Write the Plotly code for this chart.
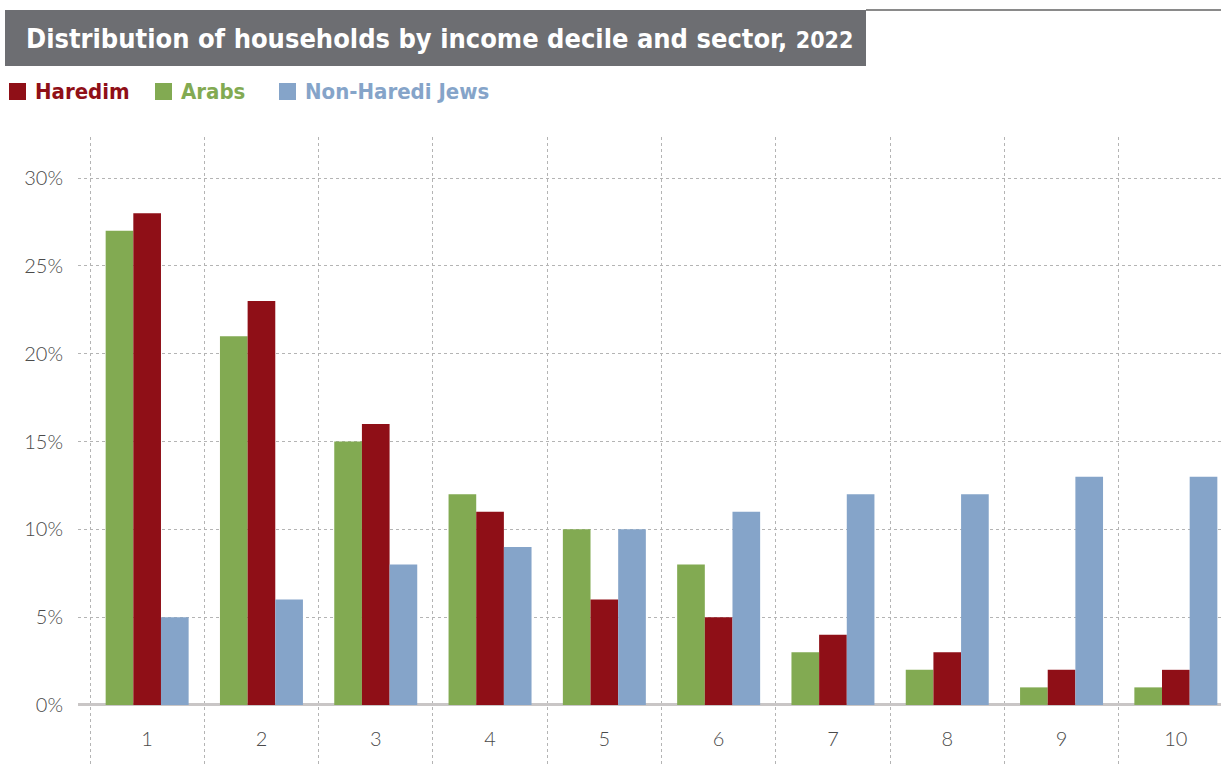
import plotly.graph_objects as go

# Income deciles and share of households (%) in each decile, by sector
deciles = ["1", "2", "3", "4", "5", "6", "7", "8", "9", "10"]
arabs = [27, 21, 15, 12, 10, 8, 3, 2, 1, 1]
haredim = [28, 23, 16, 11, 6, 5, 4, 3, 2, 2]
non_haredi = [5, 6, 8, 9, 10, 11, 12, 12, 13, 13]
y_ticks = [0, 5, 10, 15, 20, 25, 30]
y_tick_text = [f"{v}%" for v in y_ticks]

GREEN = "#82aa52"
RED = "#8f0f17"
BLUE = "#85a4c9"
TITLE_FONT = "Liberation Sans Narrow, DejaVu Sans Condensed, Roboto Condensed, sans-serif"
TICK_FONT = "Lato, Roboto, sans-serif"

xpos = list(range(len(deciles)))

fig = go.Figure()
for name, vals, color in [("Arabs", arabs, GREEN), ("Haredim", haredim, RED),
                          ("Non-Haredi Jews", non_haredi, BLUE)]:
    fig.add_trace(go.Bar(x=xpos, y=vals, name=name, marker=dict(color=color, line=dict(width=0)),
                         showlegend=False, hoverinfo="y+name"))

fig.update_layout(
    width=1221, height=784,
    margin=dict(l=78, r=0, t=137, b=19),
    paper_bgcolor="white", plot_bgcolor="white",
    barmode="group", bargap=0.274, bargroupgap=0,
    xaxis=dict(
        range=[-0.605, 9.395],
        tickvals=xpos, ticktext=deciles,
        ticklabelposition="inside", ticklabelstandoff=12,
        ticks="", showgrid=False, zeroline=False, showline=False,
        tickfont=dict(family=TICK_FONT, size=20, color="#4a4a4a", weight=300),
        minor=dict(tickvals=[i - 0.5 for i in xpos], showgrid=True, griddash="dot",
                   gridcolor="#b4b4b4", gridwidth=1, ticks=""),
    ),
    yaxis=dict(
        range=[-3.42, 32.34],
        tickvals=y_ticks, ticktext=y_tick_text,
        showgrid=True, griddash="dot", gridcolor="#b4b4b4", gridwidth=1,
        zeroline=True, zerolinecolor="#c9c6c6", zerolinewidth=3,
        showline=False, ticks="", ticklabelstandoff=14,
        tickfont=dict(family=TICK_FONT, size=20, color="#4a4a4a", weight=300),
    ),
)

# Title banner
fig.add_shape(type="rect", xref="paper", yref="paper", x0=(5 - 78) / 1143, x1=(866 - 78) / 1143,
              y0=1 + (137 - 66) / 628, y1=1 + (137 - 10) / 628,
              fillcolor="#6d6e72", line=dict(width=0), layer="above")
fig.add_shape(type="line", xref="paper", yref="paper", x0=(866 - 78) / 1143, x1=1.0,
              y0=1 + (137 - 10) / 628, y1=1 + (137 - 10) / 628,
              line=dict(color="#8a8a8a", width=2))
fig.add_annotation(xref="paper", yref="paper", x=(24 - 78) / 1143, y=1 + (137 - 38) / 628,
                   xanchor="left", yanchor="middle", showarrow=False,
                   text="Distribution of households by income decile and sector, <span style='font-size:23px'>2022</span>",
                   font=dict(family=TITLE_FONT, size=27, color="white", weight="bold"))

# Legend row
legend_items = [("Haredim", RED, 9), ("Arabs", GREEN, 155), ("Non-Haredi Jews", BLUE, 279)]
for label, color, left in legend_items:
    fig.add_shape(type="rect", xref="paper", yref="paper",
                  x0=(left - 78) / 1143, x1=(left + 17 - 78) / 1143,
                  y0=1 + (137 - 100) / 628, y1=1 + (137 - 83) / 628,
                  fillcolor=color, line=dict(width=0))
    fig.add_annotation(xref="paper", yref="paper", x=(left + 24 - 78) / 1143, y=1 + (137 - 92) / 628,
                       xanchor="left", yanchor="middle", showarrow=False, text=label,
                       font=dict(family=TITLE_FONT, size=22, color=color, weight="bold"))

fig.write_html("out.html")
